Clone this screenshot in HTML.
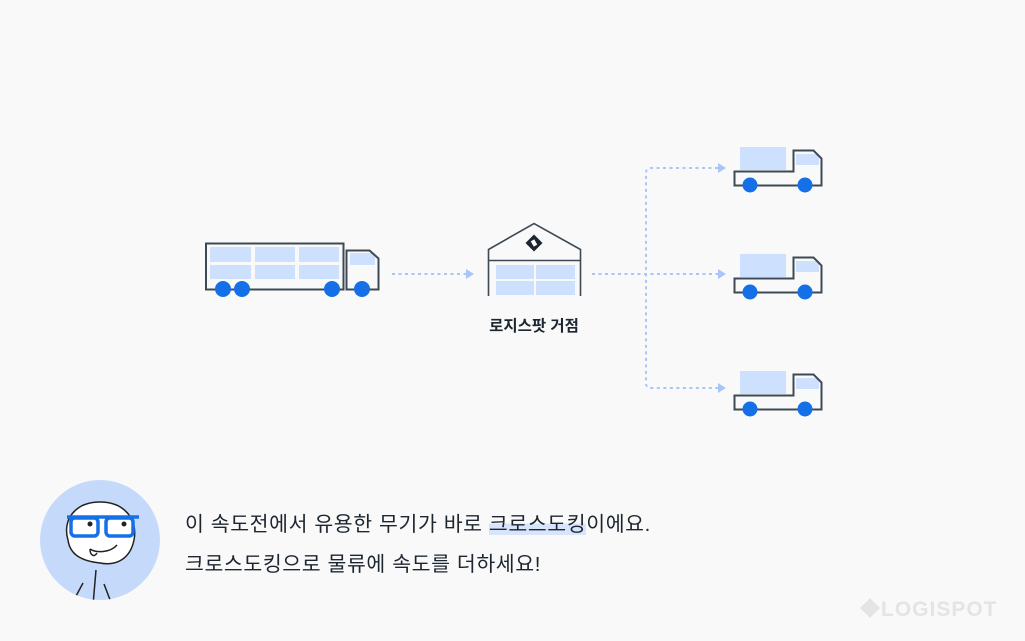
<!DOCTYPE html>
<html><head><meta charset="utf-8"><style>
html,body{margin:0;padding:0;background:#f9f9f9;}
body{width:1025px;height:641px;overflow:hidden;position:relative;font-family:"Liberation Sans","Noto Sans CJK KR",sans-serif;}
svg{position:absolute;left:0;top:0}
.t{position:absolute;left:185px;font-size:20.5px;color:#1c2530;white-space:nowrap;letter-spacing:0.6px}
.hl{background:linear-gradient(transparent 45%,#d6e5fb 45%,#d6e5fb 95%,transparent 95%)}
</style></head><body>
<svg width="1025" height="641" viewBox="0 0 1025 641">
<defs>
<g id="st">
<rect x="740" y="147" width="46" height="23" fill="#cde0fd"/>
<rect x="796" y="154" width="23" height="11" fill="#cde0fd"/>
<path d="M734.5 171.5 H793.5 V150.5 H813.5 L821.5 158.5 V185.5 H734.5 Z" fill="none" stroke="#3d4a56" stroke-width="2"/>
<circle cx="750" cy="185" r="7.5" fill="#1570e8"/>
<circle cx="805" cy="185" r="7.5" fill="#1570e8"/>
</g>
</defs>
<g fill="#cde0fd">
<rect x="210" y="247" width="41" height="15"/><rect x="255" y="247" width="40" height="15"/><rect x="299" y="247" width="40" height="15"/>
<rect x="210" y="265" width="41" height="14"/><rect x="255" y="265" width="40" height="14"/><rect x="299" y="265" width="40" height="14"/>
<rect x="350" y="253" width="25" height="12"/>
</g>
<path d="M206 243.5 H343.5 V289.5 H206 Z" fill="none" stroke="#3d4a56" stroke-width="2"/>
<path d="M346.5 289.5 V250.5 H369.5 L378.5 258.5 V289.5 Z" fill="none" stroke="#3d4a56" stroke-width="2"/>
<g fill="#1570e8"><circle cx="223" cy="289" r="8"/><circle cx="242" cy="289" r="8"/><circle cx="332" cy="289" r="8"/><circle cx="362" cy="289" r="8"/></g>
<g stroke="#a9c6f8" stroke-width="2" stroke-dasharray="3 3.5" fill="none">
<line x1="392" y1="274" x2="466" y2="274"/>
<line x1="592" y1="274" x2="718" y2="274"/>
<path d="M718 168 H651 Q646 168 646 173 V383 Q646 388 651 388 H718"/>
</g>
<g fill="#a9c6f8">
<polygon points="466,269 474,274 466,279"/>
<polygon points="718,163 726,168 718,173"/>
<polygon points="718,269 726,274 718,279"/>
<polygon points="718,383 726,388 718,393"/>
</g>
<g fill="#cde0fd">
<rect x="496" y="265" width="38" height="14"/><rect x="536" y="265" width="39" height="14"/>
<rect x="496" y="281" width="38" height="14"/><rect x="536" y="281" width="39" height="14"/>
</g>
<path d="M488.5 296 V249.5 L534 223.5 L580.5 249.5 V296 M488.5 260.5 H580.5" fill="none" stroke="#3d4a56" stroke-width="1.6"/>
<g transform="translate(534,243) rotate(45)"><rect x="-6" y="-6" width="12" height="12" fill="#1c2530"/></g>
<rect x="532" y="240" width="4" height="6" fill="#fff" transform="rotate(-30 534 243)"/>
<text x="534" y="331" text-anchor="middle" font-size="15.5" font-weight="bold" fill="#1c2530" font-family="Liberation Sans,Noto Sans CJK KR,sans-serif">로지스팟 거점</text>
<use href="#st"/>
<use href="#st" transform="translate(0,107)"/>
<use href="#st" transform="translate(0,224)"/>
<clipPath id="cc"><circle cx="100" cy="540" r="60"/></clipPath>
<circle cx="100" cy="540" r="60" fill="#c5dafb"/>
<g clip-path="url(#cc)" stroke="#222" stroke-width="1.5" fill="none">
<path d="M68 540 C62 520 75 502 100 502 C125 502 138 520 134 540 C130 560 115 566 100 563 C82 561 70 555 68 540 Z" fill="#fff"/>
<path d="M96 570 L93 605 M83 583 L75 598 M104 584 L112 605"/>
<path d="M90 549 C96 553 110 553 117 545" />
<path d="M90 549 C90 555 94 558 97 553"/>
</g>
<g stroke="#1570e8" stroke-width="3.5" fill="none" stroke-linejoin="round">
<path d="M67 517 H139"/>
<rect x="71" y="518" width="27" height="18" rx="4"/>
<rect x="106" y="518" width="27" height="18" rx="4"/>
</g>
<circle cx="90" cy="524" r="2.5" fill="#222"/><circle cx="124" cy="524" r="2.5" fill="#222"/>
<g fill="#e4e4e4"><g transform="translate(870,608) rotate(45)"><rect x="-7" y="-7" width="14" height="14"/></g>
<text x="881" y="616" font-size="21" font-weight="bold" letter-spacing="1" font-family="Liberation Sans,sans-serif" fill="#e4e4e4">LOGISPOT</text></g>
</svg>
<div class="t" style="top:507px">이 속도전에서 유용한 무기가 바로 <span class="hl">크로스도킹</span>이에요.</div>
<div class="t" style="top:547px">크로스도킹으로 물류에 속도를 더하세요!</div>
</body></html>
